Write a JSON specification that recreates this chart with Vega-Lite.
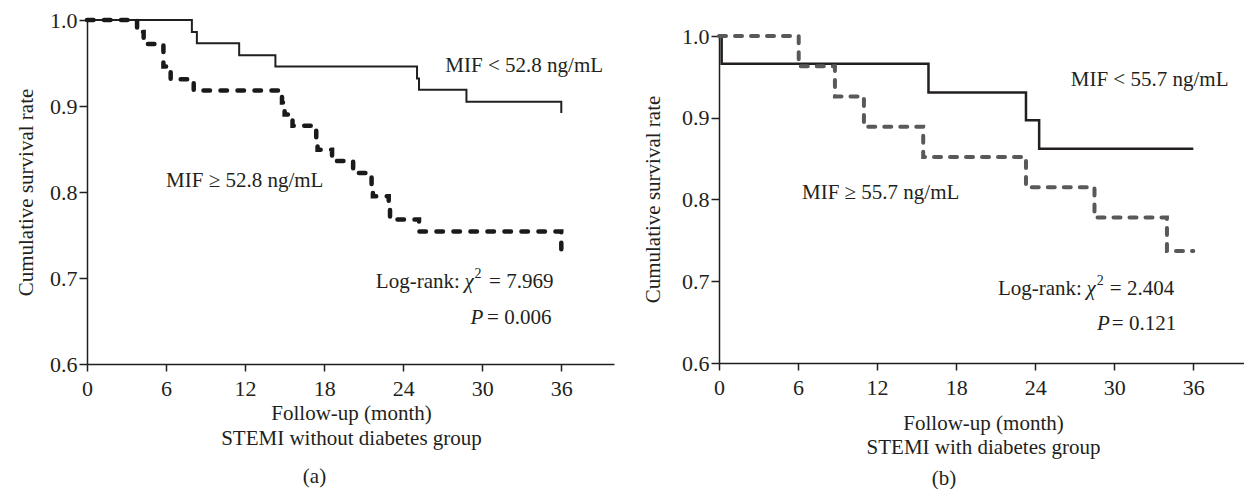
{
  "$schema": "https://vega.github.io/schema/vega-lite/v6.json",
  "background": "white",
  "padding": {"left": 15, "top": 9, "right": 0, "bottom": 0},
  "config": {
    "view": {"stroke": null},
    "font": "Liberation Serif",
    "axis": {
      "grid": false,
      "labelFont": "Liberation Serif", "labelFontSize": 22, "labelColor": "#231f20",
      "titleFont": "Liberation Serif", "titleFontSize": 21, "titleFontWeight": "normal", "titleColor": "#231f20",
      "domainColor": "#231f20", "tickColor": "#231f20", "domainWidth": 1.5, "tickWidth": 1.5
    },
    "axisX": {"tickSize": 7, "labelPadding": 7, "labelFlush": false, "labelOverlap": false},
    "axisY": {"tickSize": 8, "labelPadding": 2},
    "title": {"font": "Liberation Serif", "fontSize": 21, "fontWeight": "normal", "color": "#231f20"},
    "text": {"font": "Liberation Serif", "fontSize": 21, "color": "#231f20"}
  },
  "datasets": {
    "a_low": [
      {"month": 0, "survival": 1.0},
      {"month": 7.96, "survival": 0.986},
      {"month": 8.34, "survival": 0.973},
      {"month": 11.55, "survival": 0.959},
      {"month": 14.3, "survival": 0.946},
      {"month": 25.05, "survival": 0.932},
      {"month": 25.2, "survival": 0.919},
      {"month": 28.8, "survival": 0.905},
      {"month": 36, "survival": 0.892}
    ],
    "a_high": [
      {"month": 0, "survival": 1.0},
      {"month": 3.8, "survival": 0.986},
      {"month": 4.3, "survival": 0.972},
      {"month": 5.8, "survival": 0.946},
      {"month": 6.35, "survival": 0.931},
      {"month": 8.1, "survival": 0.918},
      {"month": 14.8, "survival": 0.904},
      {"month": 15.0, "survival": 0.890},
      {"month": 15.6, "survival": 0.877},
      {"month": 17.4, "survival": 0.863},
      {"month": 17.5, "survival": 0.849},
      {"month": 18.6, "survival": 0.836},
      {"month": 20.2, "survival": 0.822},
      {"month": 21.6, "survival": 0.808},
      {"month": 21.7, "survival": 0.795},
      {"month": 22.9, "survival": 0.781},
      {"month": 23.0, "survival": 0.768},
      {"month": 25.2, "survival": 0.754},
      {"month": 36, "survival": 0.733}
    ],
    "b_low": [
      {"month": 0, "survival": 1.0},
      {"month": 0.2, "survival": 0.966},
      {"month": 15.9, "survival": 0.931},
      {"month": 23.3, "survival": 0.897},
      {"month": 24.3, "survival": 0.862},
      {"month": 36, "survival": 0.862}
    ],
    "b_high": [
      {"month": 0, "survival": 1.0},
      {"month": 6.05, "survival": 0.963},
      {"month": 8.8, "survival": 0.926},
      {"month": 11.0, "survival": 0.889},
      {"month": 15.5, "survival": 0.852},
      {"month": 23.3, "survival": 0.815},
      {"month": 28.5, "survival": 0.778},
      {"month": 34.0, "survival": 0.737},
      {"month": 36, "survival": 0.737}
    ]
  },
  "spacing": 28,
  "hconcat": [
    {
      "width": 527,
      "height": 344,
      "title": {"text": "(a)", "orient": "bottom", "frame": "bounds", "offset": 18},
      "encoding": {
        "x": {"field": "month", "type": "quantitative",
          "scale": {"domain": [0, 40], "nice": false, "zero": false},
          "axis": {"values": [0, 6, 12, 18, 24, 30, 36], "title": ["Follow-up (month)", "STEMI without diabetes group"],
            "titleLineHeight": 25, "titleX": 264, "titleY": 55, "titleBaseline": "alphabetic", "titleAlign": "center"}},
        "y": {"field": "survival", "type": "quantitative",
          "scale": {"domain": [0.6, 1.0], "nice": false, "zero": false},
          "axis": {"values": [0.6, 0.7, 0.8, 0.9, 1.0], "format": ".1f", "title": "Cumulative survival rate",
            "titleX": -61, "titleY": 172, "titleAngle": -90, "titleAlign": "center", "titleBaseline": "middle"}}
      },
      "layer": [
        {"data": {"name": "a_low"}, "mark": {"type": "line", "interpolate": "step-after", "color": "#231f20", "strokeWidth": 2}},
        {"data": {"name": "a_high"}, "mark": {"type": "line", "interpolate": "step-after", "color": "#1a1a1a", "strokeWidth": 4.5, "strokeDash": [6.5, 10.5], "strokeCap": "round"}},
        {"data": {"values": [
            {"month": 27.2, "survival": 0.947, "label": "MIF < 52.8 ng/mL"},
            {"month": 6.0, "survival": 0.813, "label": "MIF ≥ 52.8 ng/mL"}]},
          "mark": {"type": "text", "align": "left", "baseline": "middle"},
          "encoding": {"text": {"field": "label"}}},
        {"data": {"values": [
            {"month": 28.3, "survival": 0.695, "label": "Log-rank:"},
            {"month": 35.4, "survival": 0.695, "label": "= 7.969"},
            {"month": 35.25, "survival": 0.653, "label": "= 0.006"}]},
          "mark": {"type": "text", "align": "right", "baseline": "middle"},
          "encoding": {"text": {"field": "label"}}},
        {"data": {"values": [
            {"month": 28.65, "survival": 0.695, "label": "χ"},
            {"month": 29.1, "survival": 0.653, "label": "P"}]},
          "mark": {"type": "text", "align": "left", "baseline": "middle", "fontStyle": "italic"},
          "encoding": {"text": {"field": "label"}}},
        {"data": {"values": [
            {"month": 29.42, "survival": 0.695, "label": "2"}]},
          "mark": {"type": "text", "align": "left", "baseline": "middle", "fontSize": 14, "dy": -8},
          "encoding": {"text": {"field": "label"}}}
      ]
    },
    {
      "spacing": 4,
      "vconcat": [
        {
          "width": 527,
          "height": 1,
          "data": {"values": []},
          "mark": {"type": "text"},
          "encoding": {}
        },
        {
          "width": 527,
          "height": 327,
          "title": {"text": "(b)", "orient": "bottom", "frame": "bounds", "offset": 11},
          "encoding": {
            "x": {"field": "month", "type": "quantitative",
              "scale": {"domain": [0, 40], "nice": false, "zero": false},
              "axis": {"values": [0, 6, 12, 18, 24, 30, 36], "title": ["Follow-up (month)", "STEMI with diabetes group"],
                "titleLineHeight": 24, "titleX": 264, "titleY": 66, "titleBaseline": "alphabetic", "titleAlign": "center"}},
            "y": {"field": "survival", "type": "quantitative",
              "scale": {"domain": [0.6, 1.0], "nice": false, "zero": false},
              "axis": {"values": [0.6, 0.7, 0.8, 0.9, 1.0], "format": ".1f", "title": "Cumulative survival rate",
                "titleX": -66, "titleY": 163, "titleAngle": -90, "titleAlign": "center", "titleBaseline": "middle"}}
          },
          "layer": [
            {"data": {"name": "b_low"}, "mark": {"type": "line", "interpolate": "step-after", "color": "#231f20", "strokeWidth": 2.5}},
            {"data": {"name": "b_high"}, "mark": {"type": "line", "interpolate": "step-after", "color": "#58595b", "strokeWidth": 4, "strokeDash": [7, 9], "strokeCap": "round"}},
            {"data": {"values": [
                {"month": 26.7, "survival": 0.946, "label": "MIF < 55.7 ng/mL"},
                {"month": 6.3, "survival": 0.808, "label": "MIF ≥ 55.7 ng/mL"}]},
              "mark": {"type": "text", "align": "left", "baseline": "middle"},
              "encoding": {"text": {"field": "label"}}},
            {"data": {"values": [
                {"month": 27.55, "survival": 0.690, "label": "Log-rank:"},
                {"month": 34.55, "survival": 0.690, "label": "= 2.404"},
                {"month": 34.7, "survival": 0.648, "label": "= 0.121"}]},
              "mark": {"type": "text", "align": "right", "baseline": "middle"},
              "encoding": {"text": {"field": "label"}}},
            {"data": {"values": [
                {"month": 27.9, "survival": 0.690, "label": "χ"},
                {"month": 28.7, "survival": 0.648, "label": "P"}]},
              "mark": {"type": "text", "align": "left", "baseline": "middle", "fontStyle": "italic"},
              "encoding": {"text": {"field": "label"}}},
            {"data": {"values": [
                {"month": 28.67, "survival": 0.690, "label": "2"}]},
              "mark": {"type": "text", "align": "left", "baseline": "middle", "fontSize": 14, "dy": -8},
              "encoding": {"text": {"field": "label"}}}
          ]
        }
      ]
    }
  ]
}
